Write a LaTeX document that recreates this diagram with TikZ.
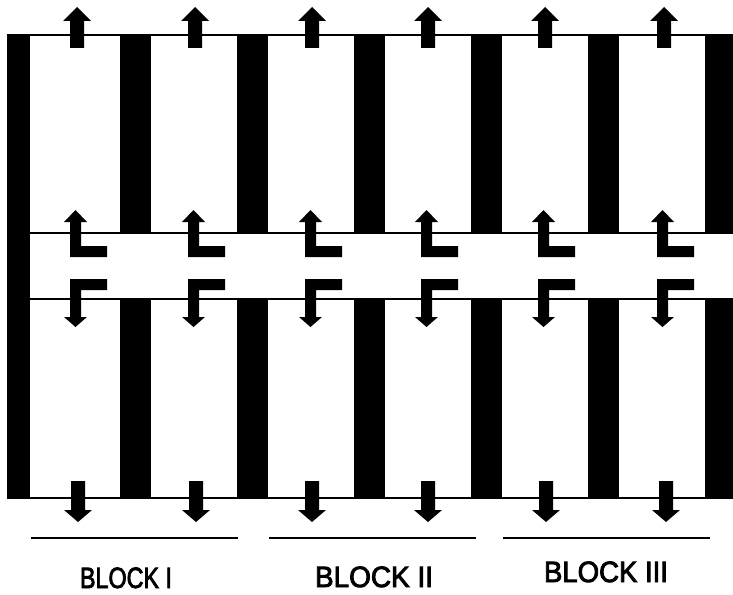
\documentclass[tikz,border=0pt]{standalone}
\usepackage{fontspec}
\setmainfont{Liberation Sans}
\newfontfamily\blockfont{Liberation Sans}[FakeBold=3]
\begin{document}
\begin{tikzpicture}[x=1pt,y=-1pt,
  bar/.style={fill=black,draw=none},
  rule/.style={line width=1.2pt,line cap=butt},
  underline/.style={line width=1.6pt},
  blocklabel/.style={inner sep=0pt,anchor=base,font=\blockfont\fontsize{27}{29}\selectfont},
  uparrow/.pic={\fill (-7,48) -- (-7,21) -- (-14,21) -- (0,7) -- (14,21) -- (7,21) -- (7,48) -- cycle;},
  downarrow/.pic={\fill (-7,481) -- (-7,510) -- (-14,510) -- (0,522) -- (14,510) -- (7,510) -- (7,481) -- cycle;},
  upbend/.pic={\fill (0,257) -- (0,222) -- (-6,222) -- (5.5,210) -- (17,222) -- (11,222) -- (11,246) -- (37,246) -- (37,257) -- cycle;},
  downbend/.pic={\fill (0,279) -- (37,279) -- (37,290) -- (11,290) -- (11,317) -- (17,317) -- (5.5,327) -- (-6,317) -- (0,317) -- cycle;}]
\useasboundingbox (0,0) rectangle (733,594);

% left wall, full height
\fill[bar] (7,35) rectangle (30,498);

% upper and lower rows of bars
\foreach \x in {120,237,354,471,588}{
  \fill[bar] (\x,35) rectangle ++(31,198);
  \fill[bar] (\x,299) rectangle ++(31,199);
}
\fill[bar] (705,35) rectangle (733,233);
\fill[bar] (705,299) rectangle (733,498);

% horizontal rules
\draw[rule] (7,35) -- (733,35);
\draw[rule] (30,233) -- (733,233);
\draw[rule] (30,299) -- (733,299);
\draw[rule] (7,498) -- (733,498);

% arrows in the white cells
\foreach \c in {77,195,312,428,545,664}{
  \pic at (\c,0) {uparrow};
  \pic at (\c-7,0) {upbend};
  \pic at (\c-7,0) {downbend};
}
\foreach \c in {78,196,312,428,546,666}{
  \pic at (\c,0) {downarrow};
}

% block brackets and labels
\draw[underline] (31,538) -- (238,538);
\draw[underline] (269,538) -- (476,538);
\draw[underline] (503,538) -- (710,538);
\node[blocklabel] (b1) at (126,588) {\resizebox{92pt}{20.5pt}{BLOCK I}};
\node[blocklabel] (b2) at (374,587) {\resizebox{118pt}{20.5pt}{BLOCK II}};
\node[blocklabel] (b3) at (606,582) {\resizebox{124pt}{20.5pt}{BLOCK III}};
\end{tikzpicture}
\end{document}
